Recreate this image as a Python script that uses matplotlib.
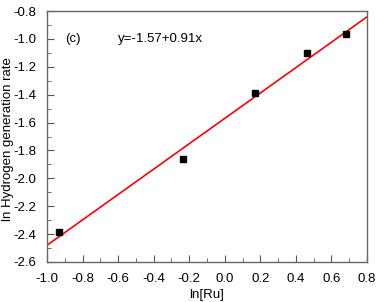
import numpy as np
import matplotlib
matplotlib.use("Agg")
import matplotlib.pyplot as plt
from matplotlib.ticker import MultipleLocator

plt.rcParams["font.family"] = ["Liberation Sans", "DejaVu Sans"]
plt.rcParams["axes.unicode_minus"] = False

# dati
ln_ru = [-0.93, -0.237, 0.172, 0.461, 0.684]
ln_rate = [-2.383, -1.862, -1.388, -1.099, -0.967]

# retta di fit
fit_intercept = -1.57
fit_slope = 0.91
fit_range = [-1.0, 0.8]

fig = plt.figure(figsize=(3.77, 3.02), dpi=100)
ax = fig.add_axes([47/377, 1-262/302, 320/377, 251/302])

xf = np.array(fit_range)
ax.plot(xf, fit_intercept + fit_slope*xf, color="red", lw=1.2, zorder=2)
ax.plot(ln_ru, ln_rate, "s", color="black", ms=4.5, zorder=3)

ax.set_xlim(-1.0, 0.8)
ax.set_ylim(-2.6, -0.8)
ax.xaxis.set_major_locator(MultipleLocator(0.2))
ax.xaxis.set_minor_locator(MultipleLocator(0.1))
ax.yaxis.set_major_locator(MultipleLocator(0.2))
ax.yaxis.set_minor_locator(MultipleLocator(0.1))
ax.tick_params(which="both", direction="in", top=False, right=False,
               color="#555555", labelsize=9.5)
ax.tick_params(which="major", length=5)
ax.tick_params(axis="x", which="major", pad=8)
ax.tick_params(axis="y", which="major", pad=8)
ax.tick_params(which="minor", length=3)
for s in ax.spines.values():
    s.set_color("#666666")
    s.set_linewidth(1.0)

ax.set_xlabel("ln[Ru]", fontsize=9.5, labelpad=3)
ax.set_ylabel("ln Hydrogen generation rate", fontsize=9.5)
ax.yaxis.set_label_coords(-33/320, 0.49)

ax.text(-0.9, -1.0, "(c)", fontsize=9.5, va="center")
ax.text(-0.6, -1.0, "y=-1.57+0.91x", fontsize=9.5, va="center")

fig.savefig("out.png", dpi=100)
